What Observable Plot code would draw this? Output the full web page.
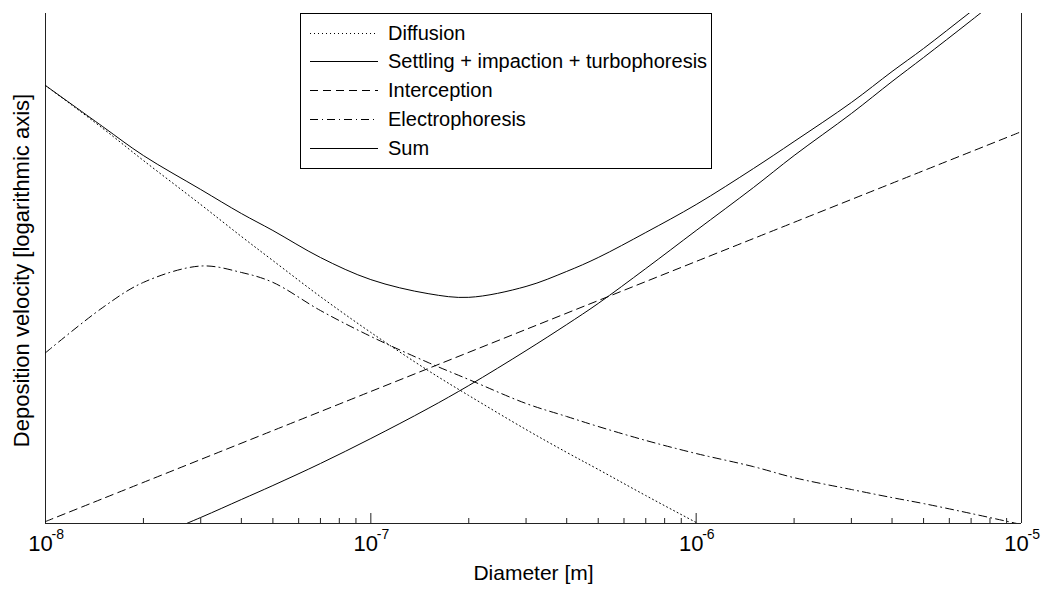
<!DOCTYPE html>
<html>
<head>
<meta charset="utf-8">
<script src="https://cdn.jsdelivr.net/npm/d3@7"></script>
<script src="https://cdn.jsdelivr.net/npm/@observablehq/plot@0.6"></script>
<style>
  html, body { margin: 0; padding: 0; background: #fff; }
  body { font-family: "Liberation Sans", Arial, sans-serif; }
  #wrap { position: relative; width: 1041px; height: 591px; overflow: hidden; }
  #legend { position: absolute; left: 300px; top: 13px; width: 412px; height: 156px;
            border: 1px solid #000; background: #fff; box-sizing: border-box; }
  .row { position: absolute; left: 0; height: 26px; display: flex; align-items: center; }
  .row svg { margin-left: 9px; }
  .row span { margin-left: 10px; font-size: 20px; color: #000; white-space: nowrap; }
</style>
</head>
<body>
<div id="wrap"><div id="chart"></div><div id="legend"></div></div>
<script>
// ---- data (y in arbitrary units on a log axis) ----
const diameters = [1e-8, 1.5e-8, 2e-8, 3e-8, 4e-8, 5e-8, 7e-8, 1e-7, 1.5e-7, 2e-7, 3e-7,
                   4e-7, 5e-7, 7e-7, 1e-6, 1.5e-6, 2e-6, 3e-6, 4e-6, 5e-6, 7e-6, 1e-5];
const diffusionDiameters = [1e-8, 1.5e-8, 2e-8, 3e-8, 4e-8, 5e-8, 7e-8, 1e-7, 1.5e-7, 2e-7,
                            3e-7, 4e-7, 5e-7, 7e-7, 1e-6, 1.5e-6];
const diffusion = [377, 211, 136.5, 75.2, 48.8, 35.2, 21.6, 13.3, 7.94, 5.66, 3.57, 2.62,
                   2.08, 1.46, 1.014, 0.675];
const settlingDiameters = [2e-8, 3e-8, 4e-8, 5e-8, 7e-8, 1e-7, 1.5e-7, 2e-7, 3e-7, 4e-7, 5e-7,
                           7e-7, 1e-6, 1.5e-6, 2e-6, 3e-6, 4e-6, 5e-6, 7e-6, 1e-5];
const settling = [0.784, 1.085, 1.384, 1.673, 2.254, 3.162, 4.75, 6.48, 10.4, 14.8, 19.7,
                  31.6, 52.9, 94.7, 146, 258, 398, 551, 909, 1564];
const interceptionDiameters = [1e-8, 1e-7, 1e-6, 1e-5];
const interception = [1.027, 5.98, 34.8, 202];
const electrophoresis = [10.1, 18.65, 26.2, 32.7, 29.97, 26.2, 17.9, 12.6, 8.85, 7.03, 5.08,
                         4.26, 3.72, 3.08, 2.58, 2.16, 1.86, 1.585, 1.42, 1.31, 1.145, 0.986];
const sum = [377, 216, 146, 92.2, 66.6, 52.9, 36.7, 27.2, 22.5, 21.4, 24.8, 30.4, 36.7, 51.5,
             75.2, 122.5, 176.6, 299.6, 455.7, 622.5, 1027, 1742];

const seriesNames = ["Diffusion", "Settling + impaction + turbophoresis", "Interception",
                     "Electrophoresis", "Sum"];
const seriesDash = ["1,3", null, "8,5", "8,4,1,4", null];

const majorTicks = [1e-8, 1e-7, 1e-6, 1e-5];
const tickBase = ["10", "10", "10", "10"];
const tickExponents = ["-8", "-7", "-6", "-5"];
const minorMultipliers = [2, 3, 4, 5, 6, 7, 8, 9];
const xLabel = "Diameter [m]";
const yLabel = "Deposition velocity [logarithmic axis]";

// ---- build ----
const W = 1041, H = 591;
const mL = 45, mR = 20, mT = 13, mB = 68;
const innerH = H - mT - mB;
const minorTicks = majorTicks.slice(0, -1).flatMap(t => minorMultipliers.map(m => t * m));

const pts = (xs, ys) => ys.map((v, i) => ({d: xs[i], v}));
const seriesData = [
  pts(diffusionDiameters, diffusion),
  pts(settlingDiameters, settling),
  pts(interceptionDiameters, interception),
  pts(diameters, electrophoresis),
  pts(diameters, sum)
];

const font = "Liberation Sans, Arial, sans-serif";
const lineMarks = seriesData.map((data, i) => Plot.line(data, {
  x: "d", y: "v", stroke: "#000", strokeWidth: 1,
  strokeDasharray: seriesDash[i] ?? undefined,
  curve: "catmull-rom", clip: true
}));

const chart = Plot.plot({
  width: W, height: H,
  marginLeft: mL, marginRight: mR, marginTop: mT, marginBottom: mB,
  style: {fontFamily: font, background: "#fff", color: "#000", overflow: "visible"},
  x: {type: "log", domain: [1e-8, 1e-5], axis: null},
  y: {type: "log", domain: [1, 1000], axis: null},
  marks: [
    // axis lines (left, right, bottom; no top)
    Plot.ruleX([1e-8, 1e-5], {stroke: "#222", strokeWidth: 1}),
    Plot.ruleY([1], {stroke: "#222", strokeWidth: 1}),
    // ticks pointing inward
    Plot.tickX(majorTicks, {x: d => d, stroke: "#222", insetTop: innerH - 10}),
    Plot.tickX(minorTicks, {x: d => d, stroke: "#222", insetTop: innerH - 5}),
    // tick labels 10^k
    Plot.text(majorTicks, {x: d => d, frameAnchor: "bottom", text: (d, i) => tickBase[i],
      dx: -5, dy: 27, fontSize: 22, textAnchor: "middle", fill: "#000"}),
    Plot.text(majorTicks, {x: d => d, frameAnchor: "bottom", text: (d, i) => tickExponents[i],
      dx: 6, dy: 15, fontSize: 14, textAnchor: "start", fill: "#000"}),
    ...lineMarks,
    // axis titles
    Plot.text([xLabel], {frameAnchor: "bottom", text: d => d, dy: 56, fontSize: 21, fill: "#000"}),
    Plot.text([yLabel], {frameAnchor: "left", text: d => d, dx: -24, dy: 2, rotate: -90,
      textAnchor: "middle", fontSize: 22, fill: "#000"})
  ]
});
document.getElementById("chart").append(chart);

// ---- legend (inside the axes, top centre) ----
const legend = document.getElementById("legend");
const rowTops = [6, 34, 63, 92, 121];
seriesNames.forEach((name, i) => {
  const row = document.createElement("div");
  row.className = "row";
  row.style.top = rowTops[i] + "px";
  const ns = "http://www.w3.org/2000/svg";
  const svg = document.createElementNS(ns, "svg");
  svg.setAttribute("width", 68); svg.setAttribute("height", 10);
  const ln = document.createElementNS(ns, "line");
  ln.setAttribute("x1", 0); ln.setAttribute("x2", 68);
  ln.setAttribute("y1", 5.5); ln.setAttribute("y2", 5.5);
  ln.setAttribute("stroke", "#000"); ln.setAttribute("stroke-width", 1);
  if (seriesDash[i]) ln.setAttribute("stroke-dasharray", seriesDash[i]);
  svg.append(ln);
  const span = document.createElement("span");
  span.textContent = name;
  row.append(svg, span);
  legend.append(row);
});
</script>
</body>
</html>
